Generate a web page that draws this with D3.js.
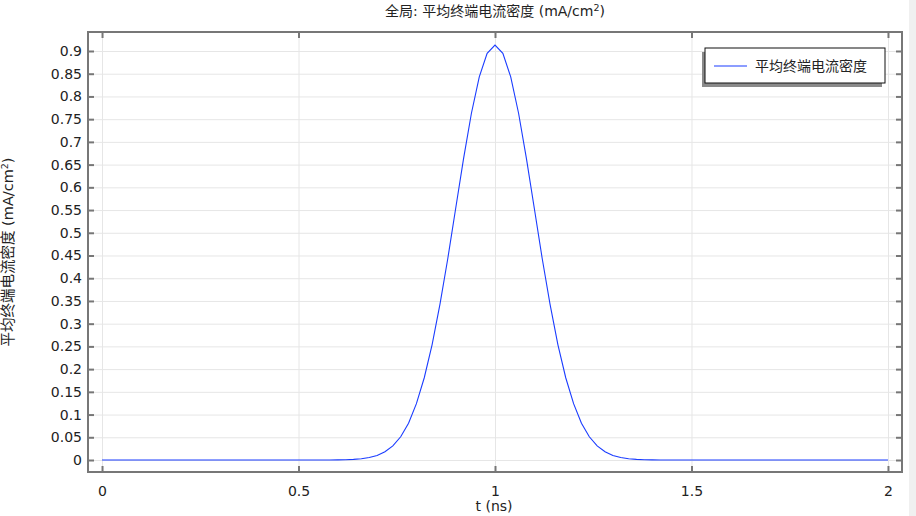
<!DOCTYPE html>
<html>
<head>
<meta charset="utf-8">
<script src="https://cdn.jsdelivr.net/npm/d3@7"></script>
<style>
  html, body { margin: 0; padding: 0; background: #fff; }
  text { font-family: "DejaVu Sans", "Noto Sans CJK SC", sans-serif; fill: #222; }
</style>
</head>
<body>
<div id="chart"></div>
<script>
// data
const times = [0, 0.5, 0.56, 0.58, 0.6, 0.62, 0.64, 0.66, 0.68, 0.7, 0.72, 0.74, 0.76, 0.78,
  0.8, 0.82, 0.84, 0.86, 0.88, 0.9, 0.92, 0.94, 0.96, 0.98, 1.0,
  1.02, 1.04, 1.06, 1.08, 1.1, 1.12, 1.14, 1.16, 1.18, 1.2, 1.22, 1.24, 1.26,
  1.28, 1.3, 1.32, 1.34, 1.36, 1.38, 1.4, 1.42, 1.44, 1.5, 2];
const current = [0, 0, 0, 0.0001, 0.0003, 0.0007, 0.0014, 0.0028, 0.0055, 0.0101, 0.0181, 0.0311, 0.0512, 0.081,
  0.124, 0.181, 0.254, 0.343, 0.444, 0.554, 0.663, 0.763, 0.843, 0.895, 0.913,
  0.895, 0.843, 0.763, 0.663, 0.554, 0.444, 0.343, 0.254, 0.181, 0.124, 0.081, 0.0512, 0.0311,
  0.0181, 0.0101, 0.0055, 0.0028, 0.0014, 0.0007, 0.0003, 0.0001, 0, 0, 0];
const xTicks = [0, 0.5, 1, 1.5, 2];
const yTicks = [0, 0.05, 0.1, 0.15, 0.2, 0.25, 0.3, 0.35, 0.4, 0.45, 0.5, 0.55, 0.6, 0.65, 0.7, 0.75, 0.8, 0.85, 0.9];
const seriesName = "平均终端电流密度";

const W = 916, H = 516;
const mLeft = 88, mRight = 902, mTop = 32, mBottom = 472;

const svg = d3.select("#chart").append("svg")
  .attr("width", W).attr("height", H);

// scrollbar strip on the right edge
svg.append("rect").attr("x", 909).attr("y", 0).attr("width", 7).attr("height", H).attr("fill", "#f0f0f0");

const x = d3.scaleLinear().domain([-0.0357, 2.0357]).range([mLeft, mRight]);
const y = d3.scaleLinear().domain([-0.0264, 0.9418]).range([mBottom, mTop]);

// grid
svg.append("g")
  .attr("transform", `translate(0,${mBottom})`)
  .call(d3.axisBottom(x).tickValues(xTicks).tickSize(-(mBottom - mTop)).tickFormat(""))
  .call(g => g.select(".domain").remove())
  .call(g => g.selectAll("line").attr("stroke", "#e6e6e6"));
svg.append("g")
  .attr("transform", `translate(${mLeft},0)`)
  .call(d3.axisLeft(y).tickValues(yTicks).tickSize(-(mRight - mLeft)).tickFormat(""))
  .call(g => g.select(".domain").remove())
  .call(g => g.selectAll("line").attr("stroke", "#e6e6e6"));

// curve
const line = d3.line()
  .x((d, i) => x(times[i]))
  .y(d => y(d));
svg.append("path")
  .datum(current)
  .attr("fill", "none")
  .attr("stroke", "#1a3cff")
  .attr("stroke-width", 1.1)
  .attr("d", line);

// frame
svg.append("rect")
  .attr("x", mLeft).attr("y", mTop)
  .attr("width", mRight - mLeft).attr("height", mBottom - mTop)
  .attr("fill", "none").attr("stroke", "#777").attr("stroke-width", 2);

// axes with inward ticks
const axisStyle = g => {
  g.select(".domain").remove();
  g.selectAll("line").attr("stroke", "#777").attr("stroke-width", 2);
  g.selectAll("text").style("font-size", "14px").attr("fill", "#222");
};
svg.append("g")
  .attr("transform", `translate(0,${mBottom})`)
  .call(d3.axisBottom(x).tickValues(xTicks).tickSize(-6).tickPadding(14).tickFormat(d3.format("")))
  .call(axisStyle);
svg.append("g")
  .attr("transform", `translate(0,${mTop})`)
  .call(d3.axisTop(x).tickValues(xTicks).tickSize(-6).tickFormat(""))
  .call(axisStyle);
svg.append("g")
  .attr("transform", `translate(${mLeft},0)`)
  .call(d3.axisLeft(y).tickValues(yTicks).tickSize(-6).tickPadding(6).tickFormat(d3.format("")))
  .call(axisStyle);
svg.append("g")
  .attr("transform", `translate(${mRight},0)`)
  .call(d3.axisRight(y).tickValues(yTicks).tickSize(-6).tickFormat(""))
  .call(axisStyle);

// title
const title = svg.append("text")
  .attr("x", 495).attr("y", 16)
  .attr("text-anchor", "middle")
  .style("font-size", "14px");
title.append("tspan").text("全局: 平均终端电流密度 (mA/cm");
title.append("tspan").attr("dy", -5).style("font-size", "9.5px").text("2");
title.append("tspan").attr("dy", 5).text(")");

// x label
svg.append("text")
  .attr("x", 494).attr("y", 511)
  .attr("text-anchor", "middle")
  .style("font-size", "14px")
  .text("t (ns)");

// y label
const ylab = svg.append("text")
  .attr("transform", "translate(13,252) rotate(-90)")
  .attr("text-anchor", "middle")
  .style("font-size", "14.5px");
ylab.append("tspan").text("平均终端电流密度 (mA/cm");
ylab.append("tspan").attr("dy", -5).style("font-size", "9.5px").text("2");
ylab.append("tspan").attr("dy", 5).text(")");

// legend
const lg = svg.append("g");
lg.append("rect")
  .attr("x", 702).attr("y", 52).attr("width", 180).attr("height", 35)
  .attr("fill", "#8a8a8a");
lg.append("rect")
  .attr("x", 705).attr("y", 48).attr("width", 180).attr("height", 35)
  .attr("fill", "#fff").attr("stroke", "#111").attr("stroke-width", 1);
lg.append("line")
  .attr("x1", 714).attr("x2", 747).attr("y1", 66).attr("y2", 66)
  .attr("stroke", "#1a3cff").attr("stroke-width", 1.1);
lg.append("text")
  .attr("x", 755).attr("y", 71)
  .style("font-size", "14px")
  .text(seriesName);
</script>
</body>
</html>
